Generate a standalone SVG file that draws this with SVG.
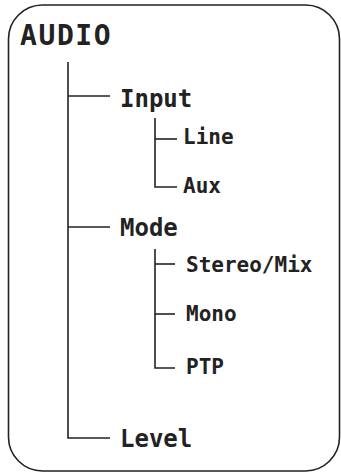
<svg xmlns="http://www.w3.org/2000/svg" width="341" height="472" viewBox="0 0 341 472">
<style>
.t{font-family:"DejaVu Sans Mono","Liberation Mono",monospace;font-weight:bold;fill:#222}
.h1{font-size:28px;letter-spacing:1.6px}
.h2{font-size:24px}
.h3{font-size:21px}
.c{fill:none;stroke:#222;stroke-width:1.6}
</style>
<rect x="8.5" y="5" width="331" height="466" rx="34" ry="34" fill="#fff" stroke="#222" stroke-width="1.6"/>
<g id="connectors" class="c">
<polyline points="68,62 68,438 110,438"/>
<line x1="68" y1="96" x2="110" y2="96"/>
<line x1="68" y1="227" x2="110" y2="227"/>
<polyline points="155,118 155,187 177,187"/>
<line x1="155" y1="139" x2="177" y2="139"/>
<polyline points="155,249 155,368 175,368"/>
<line x1="155" y1="264" x2="175" y2="264"/>
<line x1="155" y1="314" x2="175" y2="314"/>
</g>
<g id="audio"><text class="t h1" x="20" y="45">AUDIO</text></g>
<g id="input"><text class="t h2" x="120" y="107">Input</text></g>
<g id="line"><text class="t h3" x="183" y="144">Line</text></g>
<g id="aux"><text class="t h3" x="183" y="193">Aux</text></g>
<g id="mode"><text class="t h2" x="120" y="236">Mode</text></g>
<g id="stereo"><text class="t h3" x="186" y="272">Stereo/Mix</text></g>
<g id="mono"><text class="t h3" x="186" y="321">Mono</text></g>
<g id="ptp"><text class="t h3" x="186" y="374">PTP</text></g>
<g id="level"><text class="t h2" x="120" y="447">Level</text></g>
</svg>
